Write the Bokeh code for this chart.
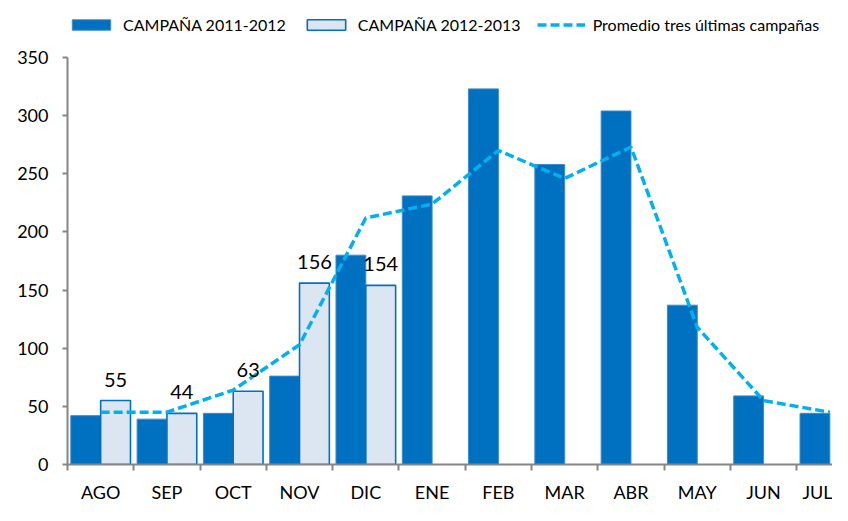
from bokeh.plotting import figure
from bokeh.layouts import column
from bokeh.models import ColumnDataSource, FixedTicker, Legend, LegendItem, Range1d
from bokeh.embed import file_html
from bokeh.resources import INLINE
from bokeh.core.properties import value
import numpy as np

months = ["AGO", "SEP", "OCT", "NOV", "DIC", "ENE", "FEB", "MAR", "ABR", "MAY", "JUN", "JUL"]
camp_2011_2012 = [42, 39, 44, 76, 180, 231, 323, 258, 304, 137, 59, 44]
camp_2012_2013 = [55, 44, 63, 156, 154, None, None, None, None, None, None, None]
promedio = [45, 45, 64, 103, 212, 224, 270, 246, 273, 118, 55, 45]
y_ticks = [0, 50, 100, 150, 200, 250, 300, 350]
series_names = ["CAMPAÑA 2011-2012", "CAMPAÑA 2012-2013", "Promedio tres últimas campañas"]

FONT = "Lato"
DARK = "#0070C0"
DARK_EDGE = "#3C8AD0"
LIGHT = "#DCE6F2"
LINE = "#00B0F0"
AXIS = "#868686"

idx = np.arange(len(months))
light_idx = [i for i, v in enumerate(camp_2012_2013) if v is not None]

src_dark = ColumnDataSource(dict(x=idx - 0.225, top=camp_2011_2012))
src_light = ColumnDataSource(dict(x=[i + 0.225 for i in light_idx],
                                  top=[camp_2012_2013[i] for i in light_idx],
                                  lab=[str(camp_2012_2013[i]) for i in light_idx]))
src_line = ColumnDataSource(dict(x=idx, y=promedio))

dark_style = dict(fill_color=DARK, line_color=DARK_EDGE, line_width=1)
light_style = dict(fill_color=LIGHT, line_color=DARK, line_width=1.6)
line_style = dict(line_color=LINE, line_width=3.5, line_dash="9 4")

# ---------- legend strip (renderers hidden, only their legend swatches show) ----------
LEG_H = 40
lg = figure(width=832, height=LEG_H, output_backend="svg", toolbar_location=None,
            x_axis_type=None, y_axis_type=None, x_range=Range1d(-0.5, 11.04), y_range=Range1d(0, 1),
            min_border=0, min_border_left=67)
lg.outline_line_color = None
lg.xgrid.visible = False
lg.ygrid.visible = False
l1 = lg.vbar(x="x", top="top", width=0.45, source=src_dark, visible=False, **dark_style)
l2 = lg.vbar(x="x", top="top", width=0.45, source=src_light, visible=False, **light_style)
l3 = lg.line(x="x", y="y", source=src_line, visible=False, **line_style)
legend = Legend(items=[
    LegendItem(label=series_names[0], renderers=[l1]),
    LegendItem(label=series_names[1], renderers=[l2]),
    LegendItem(label=series_names[2], renderers=[l3]),
], orientation="horizontal", location=(0, 6))
legend.glyph_width = 48
legend.glyph_height = 13
legend.label_standoff = 8
legend.spacing = 16
legend.padding = 2
legend.margin = 0
legend.border_line_color = None
legend.background_fill_alpha = 0
legend.inactive_fill_alpha = 0
legend.label_text_font = FONT
legend.label_text_font_size = "16px"
legend.label_text_color = "#000000"
lg.add_layout(legend, "center")

# ---------- main chart ----------
p = figure(width=832, height=505 - LEG_H, output_backend="svg", toolbar_location=None,
           x_range=Range1d(-0.5, 11.04), y_range=Range1d(0, 350),
           min_border_left=67, min_border_right=0, min_border_top=57 - LEG_H, min_border_bottom=39)
p.outline_line_color = None
p.xgrid.visible = False
p.ygrid.visible = False

p.vbar(x="x", top="top", width=0.45, source=src_dark, **dark_style)
p.vbar(x="x", top="top", width=0.45, source=src_light, **light_style)
p.line(x="x", y="y", source=src_line, **line_style)
p.text(x="x", y="top", text="lab", source=src_light, text_align="center", text_baseline="bottom",
       y_offset=-14, text_font=value(FONT), text_font_size="20px", text_color="#000000")

xa = p.xaxis[0]
xa.ticker = FixedTicker(ticks=list(idx), minor_ticks=[i - 0.5 for i in range(13)])
xa.major_label_overrides = {int(i): m for i, m in enumerate(months)}
xa.major_tick_out = 0
xa.major_tick_in = 0
xa.minor_tick_out = 6
xa.minor_tick_in = 0
xa.minor_tick_line_color = AXIS
xa.minor_tick_line_width = 2
xa.axis_line_color = AXIS
xa.axis_line_width = 2
xa.major_label_standoff = 10
xa.major_label_text_font = FONT
xa.major_label_text_font_size = "18px"
xa.major_label_text_color = "#000000"

ya = p.yaxis[0]
ya.ticker = FixedTicker(ticks=y_ticks)
ya.major_tick_out = 5
ya.major_tick_in = 0
ya.minor_tick_out = 0
ya.minor_tick_in = 0
ya.major_tick_line_color = AXIS
ya.major_tick_line_width = 2
ya.axis_line_color = AXIS
ya.axis_line_width = 2
ya.major_label_standoff = 14
ya.major_label_text_font = FONT
ya.major_label_text_font_size = "18px"
ya.major_label_text_color = "#000000"

layout = column(lg, p, spacing=0)
open("out.html", "w").write(file_html(layout, INLINE))
